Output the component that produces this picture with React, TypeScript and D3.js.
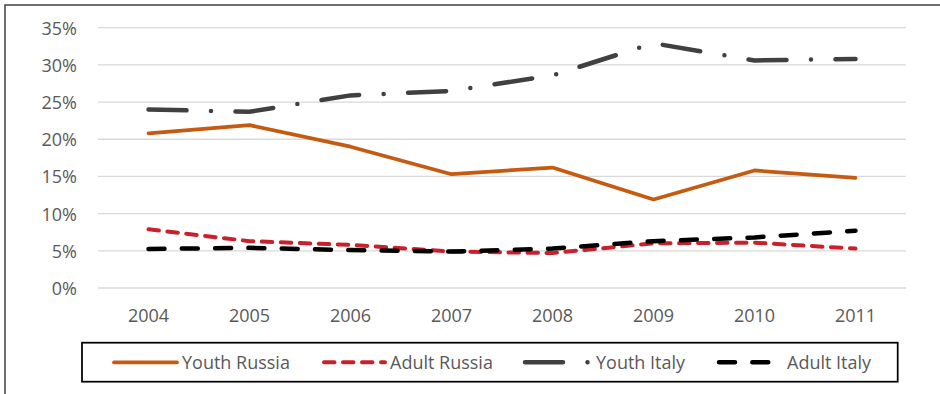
import React from "react";
import * as d3 from "d3";

const years = ["2004", "2005", "2006", "2007", "2008", "2009", "2010", "2011"];
const youthRussia = [20.8, 21.9, 19.0, 15.3, 16.2, 11.9, 15.8, 14.8];
const adultRussia = [7.9, 6.3, 5.8, 4.9, 4.7, 6.0, 6.1, 5.3];
const youthItaly = [24.0, 23.7, 25.9, 26.5, 28.6, 32.9, 30.6, 30.8];
const adultItaly = [5.25, 5.4, 5.1, 4.9, 5.3, 6.3, 6.8, 7.7];
const yTicks = [0, 5, 10, 15, 20, 25, 30, 35];

const series = [
  { name: "Youth Russia", values: youthRussia, color: "#C55A11", width: 3.75, dash: "none" },
  { name: "Adult Russia", values: adultRussia, color: "#C9212B", width: 4, dash: "10.5,8.5" },
  { name: "Youth Italy", values: youthItaly, color: "#404040", width: 4.5, dash: "38,24.5,0,24.5" },
  { name: "Adult Italy", values: adultItaly, color: "#000000", width: 4.5, dash: "16,17.3" },
];

// legend placement (line start, line end, text start)
const legendPos = [
  [114, 177, 182],
  [324, 385, 390],
  [525, 588, 596],
  [719, 772, 787],
];

const font = "'Open Sans', sans-serif";
const textColor = "#595959";

const App = () => {
  const width = 940;
  const height = 394;

  const x = d3.scalePoint().domain(years).range([98, 906]).padding(0.5);
  const y = d3.scaleLinear().domain([0, 35]).range([288, 27.7]);

  const line = d3
    .line<number>()
    .x((d, i) => x(years[i]) as number)
    .y(d => y(d));

  const legendY = 362.3;

  return (
    <svg
      width={width}
      height={height}
      style={{ position: "absolute", left: 0, top: 0, background: "#fff" }}
    >
      <rect x={5} y={5} width={1000} height={1000} fill="#fff" stroke="#404040" strokeWidth={1.5} />

      {yTicks.map(t => (
        <g key={t}>
          <line x1={98} x2={906} y1={y(t)} y2={y(t)} stroke="#d9d9d9" strokeWidth={1.3} />
          <text
            x={77}
            y={y(t)}
            textAnchor="end"
            dominantBaseline="central"
            fontFamily={font}
            fontSize={18}
            fill={textColor}
          >
            {t}%
          </text>
        </g>
      ))}

      {years.map(yr => (
        <text
          key={yr}
          x={x(yr)}
          y={315}
          textAnchor="middle"
          dominantBaseline="central"
          fontFamily={font}
          fontSize={18}
          fill={textColor}
        >
          {yr}
        </text>
      ))}

      {series.map(s => (
        <path
          key={s.name}
          d={line(s.values) || ""}
          fill="none"
          stroke={s.color}
          strokeWidth={s.width}
          strokeDasharray={s.dash}
          strokeLinecap="round"
          strokeLinejoin="round"
        />
      ))}

      <rect x={82} y={342.7} width={815.7} height={39} fill="#fff" stroke="#000" strokeWidth={1.75} />
      {series.map((s, i) => (
        <g key={s.name}>
          <line
            x1={legendPos[i][0]}
            x2={legendPos[i][1]}
            y1={legendY}
            y2={legendY}
            stroke={s.color}
            strokeWidth={s.width}
            strokeDasharray={s.dash}
            strokeLinecap="round"
          />
          <text
            x={legendPos[i][2]}
            y={legendY}
            dominantBaseline="central"
            fontFamily={font}
            fontSize={18}
            fill={textColor}
          >
            {s.name}
          </text>
        </g>
      ))}
    </svg>
  );
};

export default App;
